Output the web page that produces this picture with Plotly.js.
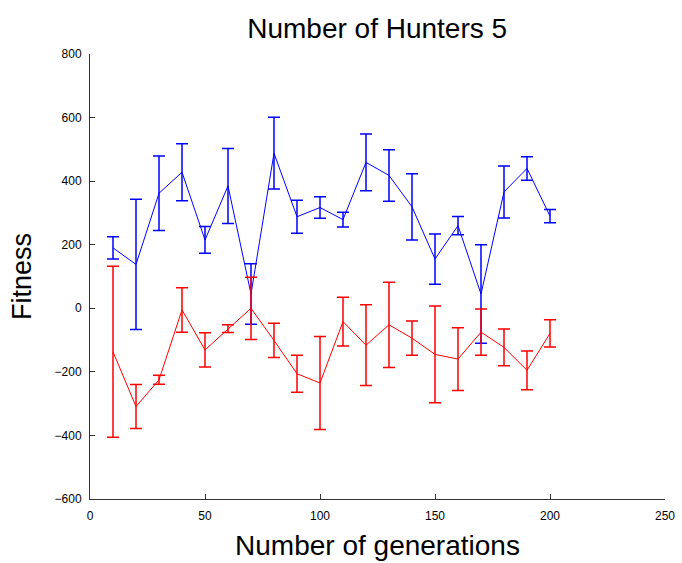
<!DOCTYPE html>
<html><head><meta charset="utf-8">
<script src="https://cdn.plot.ly/plotly-3.0.1.min.js"></script>
<style>html,body{margin:0;padding:0;background:#fff}#chart{width:682px;height:563px}</style>
</head><body><div id="chart"></div>
<script>
const generations = [10,20,30,40,50,60,70,80,90,100,110,120,130,140,150,160,170,180,190,200];
const blueMean = [190,138,362,428,215,385,45,488,288,317,279,459,418,319,155,260,45,366,440,290];
const blueErr  = [35,205,117,90,42,118,95,113,52,34,23,89,81,104,79,29,155,82,37,21];
const redMean  = [-137,-309,-225,-5,-131,-64,0,-101,-206,-235,-42,-116,-52,-94,-145,-160,-75,-123,-195,-79];
const redErr   = [269,69,14,70,54,12,98,54,58,146,77,127,134,54,152,99,73,58,61,43];

const font = "Liberation Sans, Arial, Helvetica, sans-serif";
function series(y, err, color){
  return {x: generations, y: y, type:'scatter', mode:'lines',
    line:{color:color, width:1},
    error_y:{type:'data', array: err, visible:true, color:color, thickness:1.5, width:6},
    showlegend:false};
}
const data = [series(blueMean, blueErr, '#0000ff'), series(redMean, redErr, '#ff0000')];
const axisCommon = {showline:true, linecolor:'#333', linewidth:1, ticks:'inside', ticklen:5,
  tickcolor:'#333', showgrid:false, zeroline:false, mirror:false,
  tickfont:{family:font, size:12, color:'#000'}};
const layout = {
  width:682, height:563, paper_bgcolor:'#fff', plot_bgcolor:'#fff',
  margin:{l:90, r:17, t:54, b:64},
  title:{text:'Number of Hunters 5', font:{family:font, size:28, color:'#000'}, x:0.553, xanchor:'center', y:0.95, yanchor:'middle'},
  xaxis:Object.assign({}, axisCommon, {range:[0,250], dtick:50, tick0:0, ticklabelstandoff:6,
    title:{text:'Number of generations', font:{family:font, size:28, color:'#000'}, standoff:12}}),
  yaxis:Object.assign({}, axisCommon, {range:[-600,800], dtick:200, tick0:0, ticklabelstandoff:5,
    title:{text:'Fitness', font:{family:font, size:27, color:'#000'}, standoff:15}})
};
Plotly.newPlot('chart', data, layout, {displayModeBar:false, staticPlot:true});
</script></body></html>
